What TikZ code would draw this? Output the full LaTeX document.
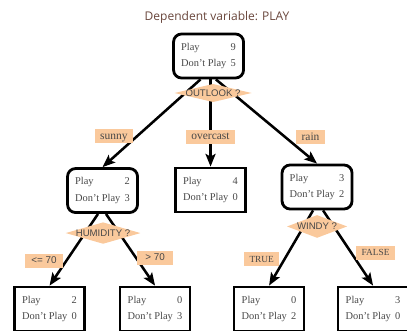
\documentclass[tikz,border=0pt]{standalone}
\usepackage{fontspec}
\setmainfont{Liberation Serif}
\setsansfont{Liberation Sans}
\newfontfamily\titlefont{Open Sans}
\usetikzlibrary{positioning, arrows.meta}
\definecolor{peach}{RGB}{250,201,156}
\definecolor{ink}{RGB}{72,72,72}
\definecolor{titlebrown}{RGB}{105,70,60}
\newcommand{\tally}[2]{\makebox[41pt]{Play\hfill #1}\\[3.5pt]\makebox[41pt]{Don't Play\hfill #2}}
\tikzstyle{outcome} = [draw, rectangle, line width=2.1pt, minimum width=52.5pt, minimum height=33pt, align=center, inner sep=0pt, text=ink, font=\fontsize{7.8}{9}\selectfont]
\tikzstyle{branchbox} = [outcome, rounded corners=6pt]
\tikzstyle{question} = [rectangle, inner sep=0pt, text=ink, font=\sffamily\fontsize{7.2}{8}\selectfont, path picture={\fill[peach] (path picture bounding box.west) -- (path picture bounding box.north) -- (path picture bounding box.east) -- (path picture bounding box.south) -- cycle;}]
\tikzstyle{answer} = [fill=peach, inner xsep=4pt, inner ysep=1.5pt, text height=6pt, text depth=1.5pt, text=ink, font=\fontsize{8.6}{10}\selectfont]
\tikzstyle{capsanswer} = [answer, font=\fontsize{7}{8}\selectfont, minimum width=25pt]
\tikzstyle{wire} = [-{Stealth[length=9.5pt,width=7.5pt,inset=2pt]}, line width=1.9pt]

\begin{document}
\begin{tikzpicture}[node distance=1cm, on grid]
    \useasboundingbox (0,0) rectangle (305.25pt,-248.25pt);
    \node[font=\titlefont\fontsize{9}{11}\selectfont, text=titlebrown] (title) at (162.75pt,-12.75pt) {Dependent variable: PLAY};
    \node[branchbox] (root) at (156.4pt,-42pt) {\tally{9}{5}};
    \node[branchbox, below left=100.9pt and 79.5pt of root] (sunny) {\tally{2}{3}};
    \node[outcome, below right=100.5pt and 1.5pt of root] (overcast) {\tally{4}{0}};
    \node[branchbox, below right=98.25pt and 81.4pt of root] (rain) {\tally{3}{2}};
    \node[outcome, below left=88.9pt and 39.75pt of sunny] (lowhum) {\tally{2}{0}};
    \node[outcome, below right=88.9pt and 39.4pt of sunny] (highhum) {\tally{0}{3}};
    \node[outcome, below left=91.5pt and 36pt of rain] (windy) {\tally{0}{2}};
    \node[outcome, below right=91.5pt and 42pt of rain] (calm) {\tally{3}{0}};
    \draw[wire] ([xshift=-6pt]root.south) -- node[answer, pos=0.65, left=2pt] {sunny} (sunny.north);
    \draw[wire] ([xshift=1.5pt]root.south) -- node[answer, pos=0.655] {overcast} (overcast.north);
    \draw[wire] ([xshift=5.5pt]root.south) -- node[answer, pos=0.69, right=7pt] {rain} (rain.north);
    \draw[wire] ([xshift=-3.4pt]sunny.south) -- node[capsanswer, pos=0.65, left=2pt, font=\sffamily\fontsize{7.4}{9}\selectfont, minimum width=28pt] {<= 70} (lowhum.north);
    \draw[wire] ([xshift=2.6pt]sunny.south) -- node[capsanswer, pos=0.61, right=0pt, font=\sffamily\fontsize{7.4}{9}\selectfont, minimum width=27pt] {> 70} (highhum.north);
    \draw[wire] ([xshift=-3pt]rain.south) -- node[capsanswer, pos=0.65, left=3pt] {TRUE} (windy.north);
    \draw[wire] ([xshift=4.5pt]rain.south) -- node[capsanswer, pos=0.56, right=3pt] {FALSE} (calm.north);
    \node[question, minimum width=57.75pt, minimum height=13.5pt, below right=27.75pt and 3.4pt of root] (outlook) {OUTLOOK ?};
    \node[question, minimum width=56pt, minimum height=16pt, below right=31.9pt and 0.4pt of sunny] (humidity) {HUMIDITY ?};
    \node[question, minimum width=45pt, minimum height=17pt, below=29.6pt of rain] (windyq) {WINDY ?};
\end{tikzpicture}
\end{document}
